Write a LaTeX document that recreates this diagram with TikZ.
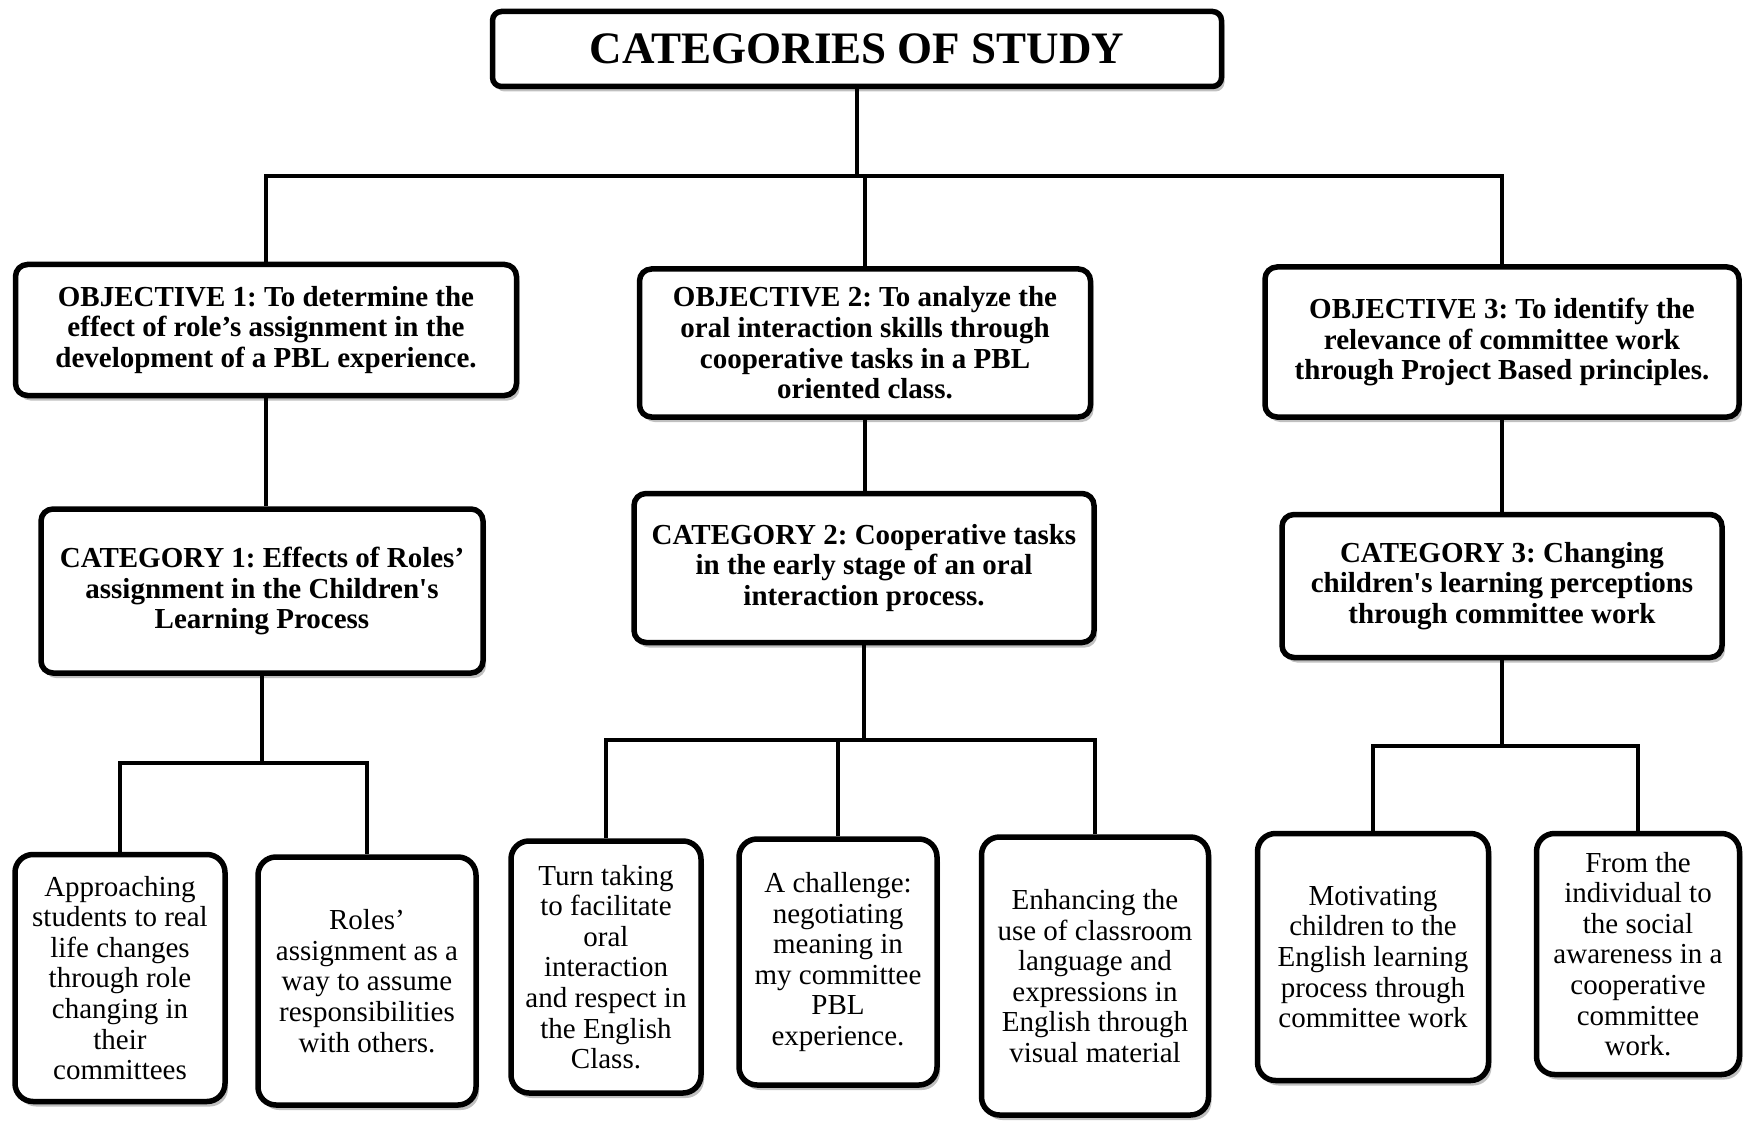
\documentclass[tikz,border=0pt]{standalone}
\usepackage{fontspec}
\setmainfont{Liberation Serif}
\usepackage{tikz}
\usetikzlibrary{shadows}
\frenchspacing
\definecolor{cardborder}{RGB}{0, 0, 0}
\definecolor{cardshadow}{RGB}{140, 140, 140}
\tikzstyle{card} = [rectangle, rounded corners=18pt, draw=cardborder, line width=5.5pt, fill=white,
                    align=center, inner sep=3pt, font=\fontsize{29}{30.6}\selectfont,
                    drop shadow={shadow xshift=3pt, shadow yshift=-5pt, fill=cardshadow, opacity=0.55}]
\tikzstyle{headcard} = [card, rounded corners=12pt, font=\fontsize{29}{30.6}\selectfont\bfseries]
\tikzstyle{link} = [line width=4pt, draw=cardborder]

\begin{document}
\begin{tikzpicture}[x=1pt, y=-1pt]
    \useasboundingbox (0,0) rectangle (1745,1123);
    % title and objectives
    \node[headcard, rounded corners=9pt, minimum width=729pt, minimum height=75pt,
          font=\fontsize{45}{50}\selectfont\bfseries] (title) at (857,49) {CATEGORIES OF STUDY};
    \node[headcard, minimum width=501pt, minimum height=131pt] (obj1) at (266,330)
        {OBJECTIVE 1: To determine the\\ effect of role’s assignment in the\\ development of a PBL experience.};
    \node[headcard, minimum width=451pt, minimum height=148pt] (obj2) at (865,343)
        {OBJECTIVE 2: To analyze the\\ oral interaction skills through\\ cooperative tasks in a PBL\\ oriented class.};
    \node[headcard, minimum width=474pt, minimum height=150pt] (obj3) at (1502,342)
        {OBJECTIVE 3: To identify the\\ relevance of committee work\\ through Project Based principles.};
    % categories
    \node[headcard, minimum width=442pt, minimum height=164pt] (cat1) at (262,591)
        {CATEGORY 1: Effects of Roles’\\ assignment in the Children\textquotesingle s\\ Learning Process};
    \node[headcard, minimum width=460pt, minimum height=149pt] (cat2) at (864,568)
        {CATEGORY 2: Cooperative tasks\\ in the early stage of an oral\\ interaction process.};
    \node[headcard, minimum width=440pt, minimum height=143pt] (cat3) at (1502,586)
        {CATEGORY 3: Changing\\ children\textquotesingle s learning perceptions\\ through committee work};
    % sub-categories
    \node[card, minimum width=210pt, minimum height=247pt] (sub1) at (120,978)
        {Approaching\\ students to real\\ life changes\\ through role\\ changing in\\ their\\ committees};
    \node[card, minimum width=218pt, minimum height=248pt] (sub2) at (367,981)
        {Roles’\\ assignment as a\\ way to assume\\ responsibilities\\ with others.};
    \node[card, minimum width=190pt, minimum height=252pt] (sub3) at (606,967)
        {Turn taking\\ to facilitate\\ oral\\ interaction\\ and respect in\\ the English\\ Class.};
    \node[card, minimum width=198pt, minimum height=246pt] (sub4) at (838,962)
        {A challenge:\\ negotiating\\ meaning in\\ my committee\\ PBL\\ experience.};
    \node[card, minimum width=227pt, minimum height=278pt] (sub5) at (1095,976)
        {Enhancing the\\ use of classroom\\ language and\\ expressions in\\ English through\\ visual material};
    \node[card, minimum width=231pt, minimum height=247pt] (sub6) at (1373,957)
        {Motivating\\ children to the\\ English learning\\ process through\\ committee work};
    \node[card, minimum width=203pt, minimum height=241pt] (sub7) at (1638,954)
        {From the\\ individual to\\ the social\\ awareness in a\\ cooperative\\ committee\\ work.};
    % connectors
    \coordinate (topbus) at (857,176);
    \coordinate (bus1) at (262,763);
    \coordinate (bus2) at (864,740);
    \coordinate (bus3) at (1502,746);
    \draw[link] (title.south) -- (topbus);
    \draw[link] (obj1.north) |- (topbus) -| (obj3.north);
    \draw[link] (obj2.north) -- (obj2.north |- topbus);
    \draw[link] (obj1.south) -- (obj1.south |- cat1.north);
    \draw[link] (obj2.south) -- (obj2.south |- cat2.north);
    \draw[link] (obj3.south) -- (obj3.south |- cat3.north);
    \draw[link] (cat1.south) -- (bus1);
    \draw[link] (sub1.north) |- (bus1) -| (sub2.north);
    \draw[link] (cat2.south) -- (bus2);
    \draw[link] (sub3.north) |- (bus2) -| (sub5.north);
    \draw[link] (sub4.north) -- (sub4.north |- bus2);
    \draw[link] (cat3.south) -- (bus3);
    \draw[link] (sub6.north) |- (bus3) -| (sub7.north);
\end{tikzpicture}
\end{document}
